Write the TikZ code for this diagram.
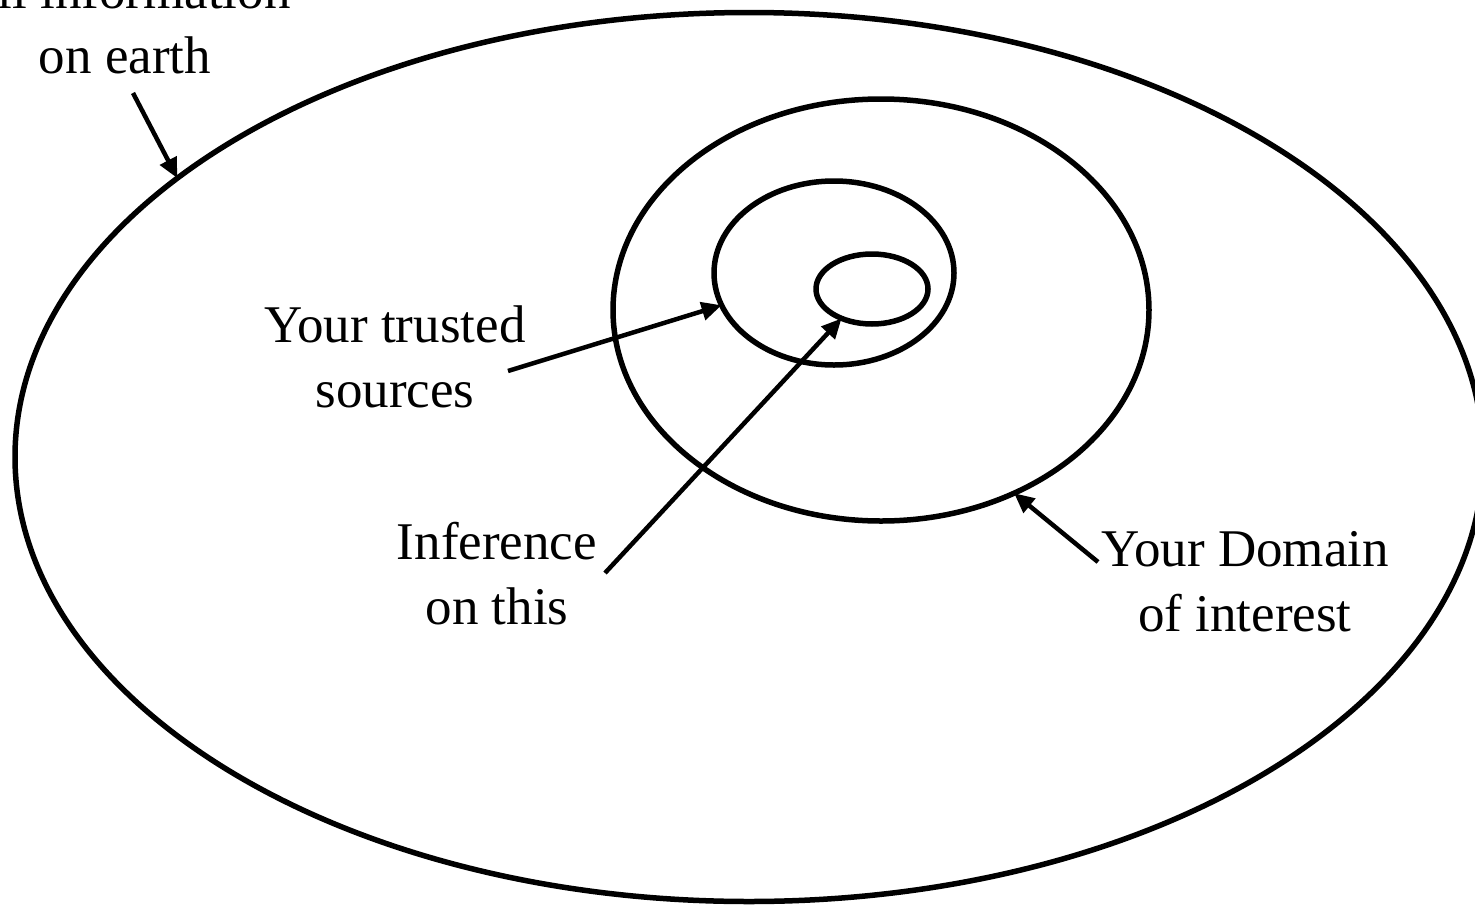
\documentclass[tikz,border=0pt]{standalone}
\usepackage{fontspec}
\setmainfont{Liberation Serif}
\usetikzlibrary{arrows.meta,shapes.geometric}
\begin{document}
\begin{tikzpicture}[x=1pt,y=-1pt,
  ring/.style={draw=black,line width=5.5pt,ellipse,inner sep=0pt,outer sep=0pt},
  pointer/.style={draw=black,line width=4.5pt,-{Triangle[length=20pt,width=18pt]}},
  label/.style={align=center,inner sep=0pt,font=\fontsize{53}{65}\selectfont}]
\useasboundingbox (0,0) rectangle (1475,905);
\node[ring,minimum width=1468pt,minimum height=889pt] (earth) at (749,457) {};
\node[ring,minimum width=536pt,minimum height=422pt] (domain) at (881,310) {};
\node[ring,minimum width=240pt,minimum height=184pt] (trusted) at (834,273) {};
\node[ring,minimum width=112pt,minimum height=70pt] (inner) at (872,289) {};
\node[label] (tall) at (125,23) {All information\\on earth};
\node[label] (ttrust) at (395,357) {Your trusted\\sources};
\node[label] (tinf) at (497,574) {Inference\\on this};
\node[label] (tdom) at (1245,582) {Your Domain\\of interest};
\coordinate (a1) at (133,93);
\coordinate (a2) at (508,371);
\coordinate (a3) at (605,573);
\coordinate (a4) at (1098,562);
\draw[pointer] (a1) -- (earth.154.4);
\draw[pointer] (a2) -- (trusted.196.8);
\draw[pointer] (a3) -- (inner.224);
\draw[pointer] (a4) -- (domain.306.3);
\end{tikzpicture}
\end{document}
